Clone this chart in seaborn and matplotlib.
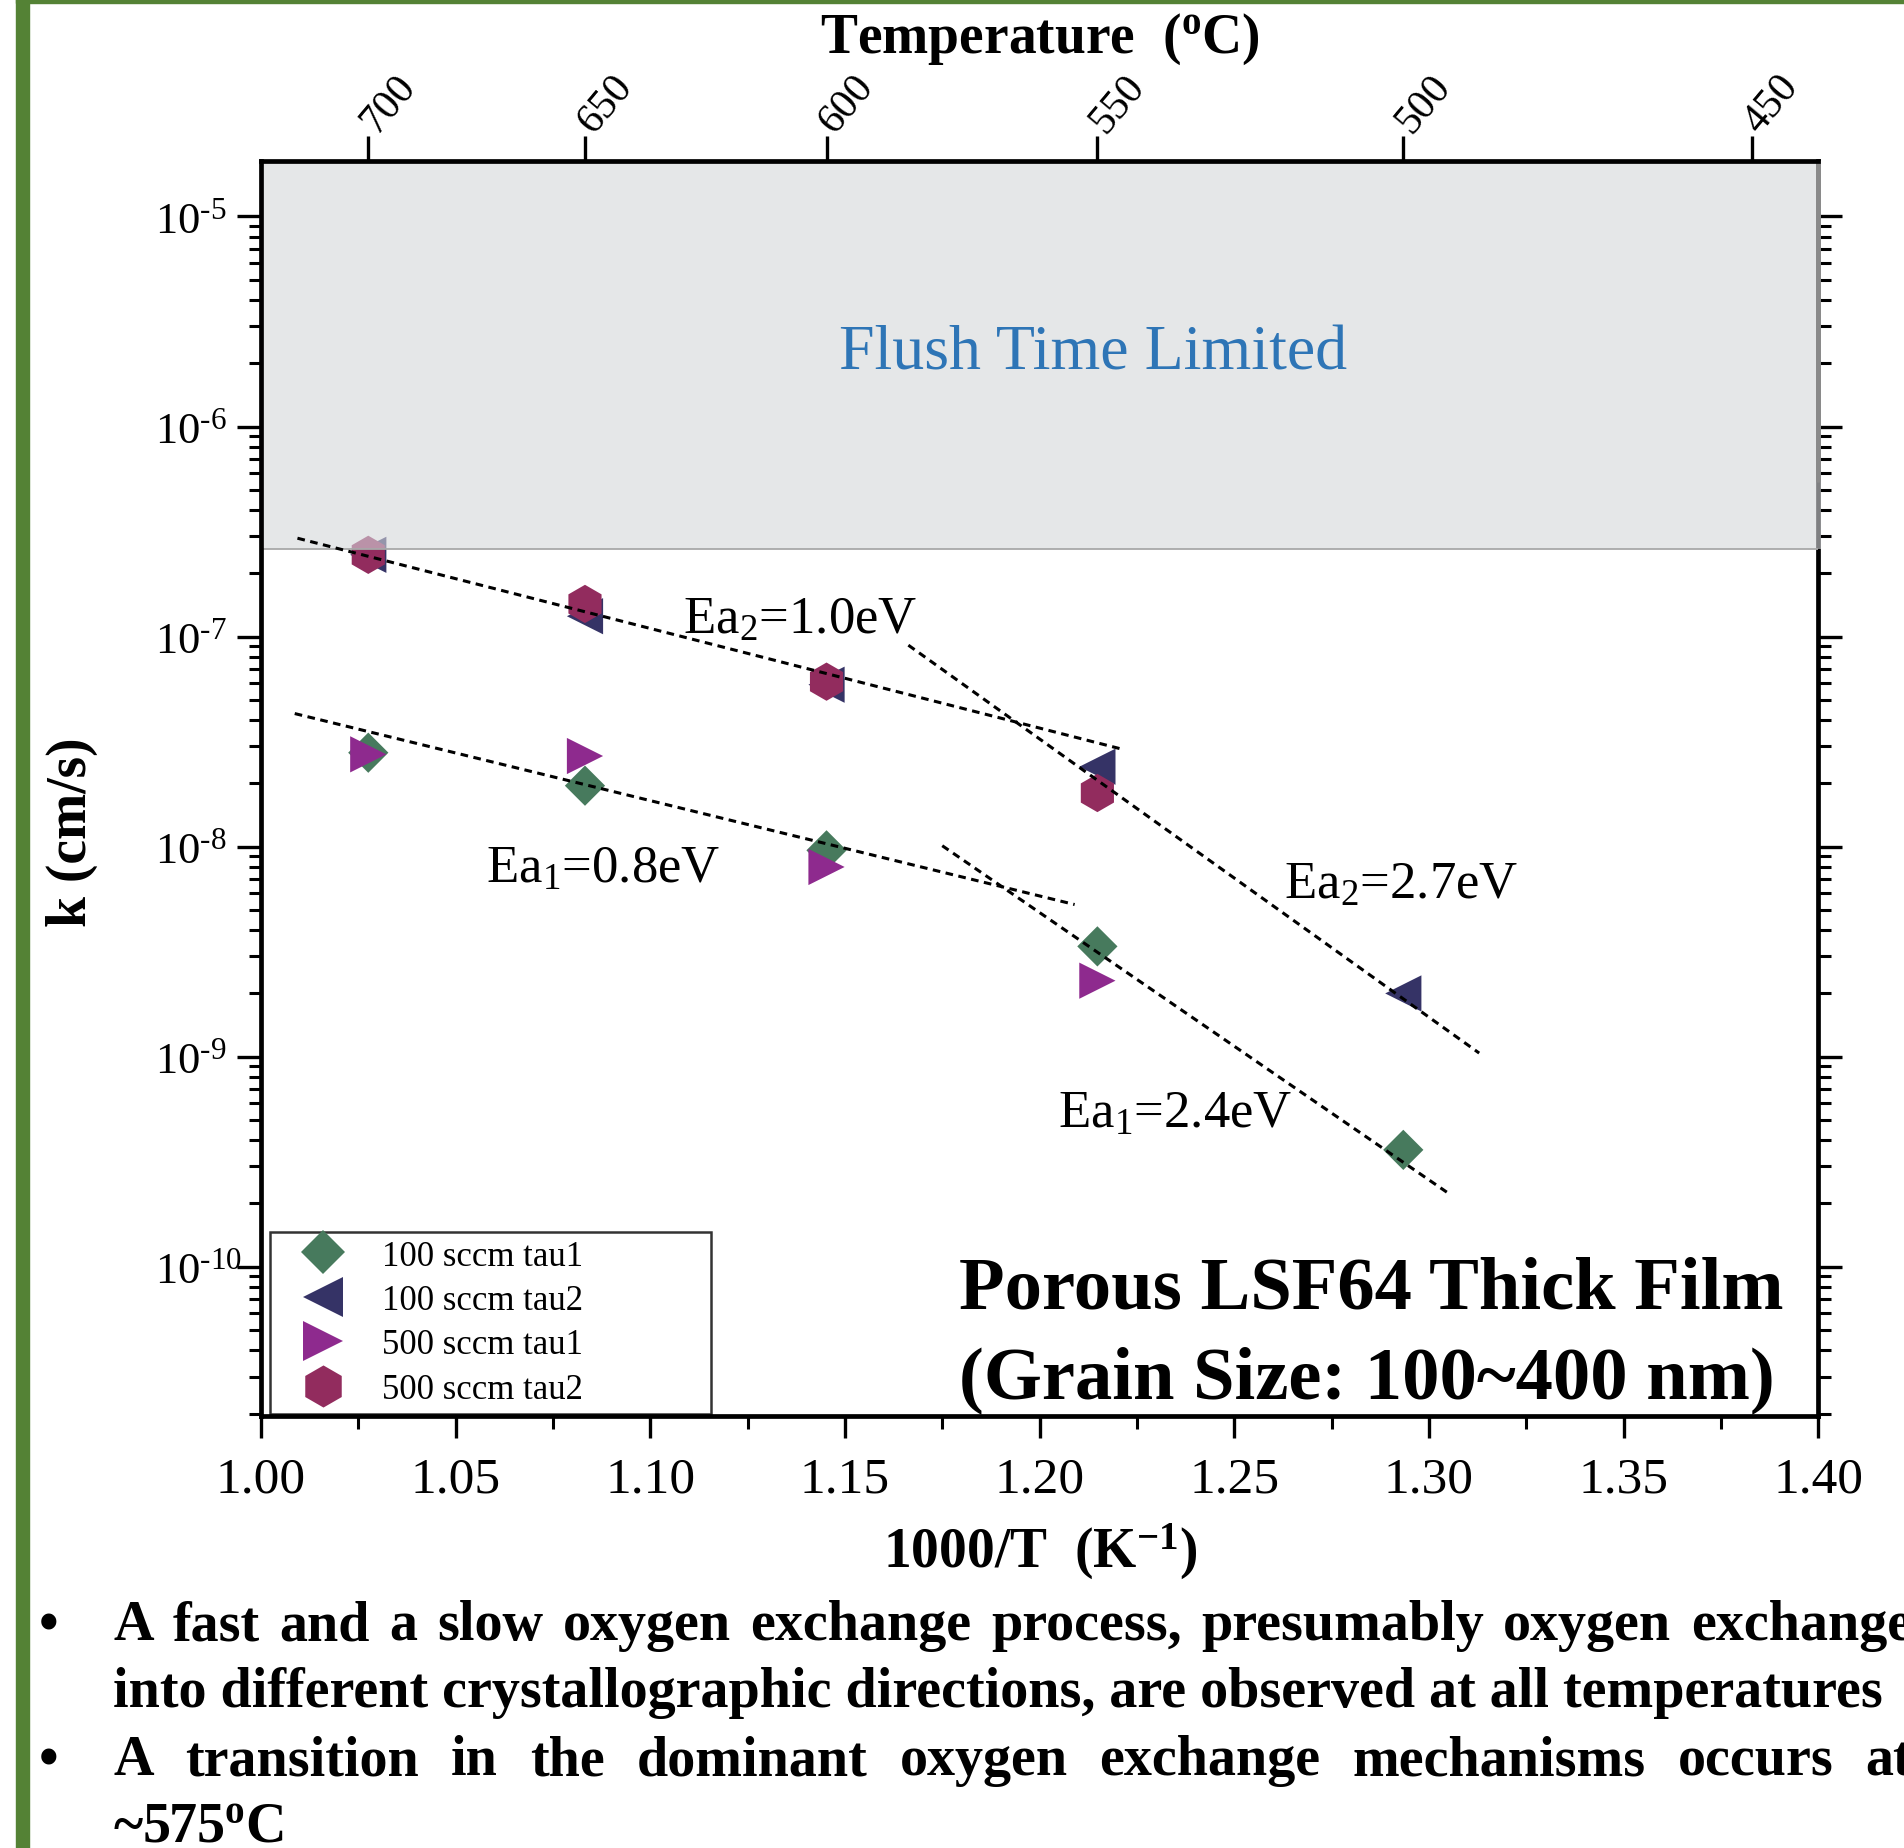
import math
import matplotlib
matplotlib.use("Agg")
import matplotlib.pyplot as plt
import matplotlib.ticker as mticker
from matplotlib.patches import Rectangle
import pandas as pd
import seaborn as sns

sns.set_style("ticks")
plt.rcParams['font.family'] = ['Liberation Serif', 'DejaVu Serif']
plt.rcParams['mathtext.fontset'] = 'custom'
plt.rcParams['mathtext.rm'] = 'Liberation Serif'
plt.rcParams['mathtext.it'] = 'Liberation Serif:italic'
plt.rcParams['mathtext.bf'] = 'Liberation Serif:bold'
for key in ['text.color', 'axes.labelcolor', 'xtick.color', 'ytick.color', 'axes.edgecolor']:
    plt.rcParams[key] = 'black'

# data
temps = [700, 650, 600, 550, 500]
k_100_tau1 = [2.8e-8, 1.95e-8, 9.6e-9, 3.35e-9, 3.6e-10]
k_100_tau2 = [2.45e-7, 1.25e-7, 5.9e-8, 2.4e-8, 2.0e-9]
temps_500 = [700, 650, 600, 550]
k_500_tau1 = [2.75e-8, 2.7e-8, 8.0e-9, 2.3e-9]
k_500_tau2 = [2.45e-7, 1.43e-7, 6.1e-8, 1.8e-8]

series_names = ["100 sccm tau1", "100 sccm tau2", "500 sccm tau1", "500 sccm tau2"]
series_colors = ["#477a5d", "#353366", "#8e2a8e", "#922c5e"]
series_markers = ["D", "<", ">", "h"]
series_sizes = [420, 680, 680, 760]

# dashed Arrhenius fits (end points)
fit_hi_x, fit_hi_k = [1.0094, 1.2215], [2.94e-7, 2.9e-8]
fit_hi2_x, fit_hi2_k = [1.1663, 1.3129], [9.1e-8, 1.04e-9]
fit_lo_x, fit_lo_k = [1.0087, 1.2090], [4.3e-8, 5.3e-9]
fit_lo2_x, fit_lo2_k = [1.1750, 1.3048], [1.01e-8, 2.25e-10]

flush_limit = 2.6e-7
top_temps = [700, 650, 600, 550, 500, 450]

rows = []
for name, tt, kk in zip(series_names, [temps, temps, temps_500, temps_500],
                        [k_100_tau1, k_100_tau2, k_500_tau1, k_500_tau2]):
    for t, k in zip(tt, kk):
        rows.append({"x": 1000 / (t + 273.15), "k": k, "series": name})
df = pd.DataFrame(rows)

fig = plt.figure(figsize=(19.04, 18.49), dpi=100)
ax = fig.add_axes([0.137, 0.2336, 0.818, 0.679])
ax.set_yscale("log")

sns.scatterplot(data=df, x="x", y="k", hue="series", style="series", size="series",
                palette=dict(zip(series_names, series_colors)),
                markers=dict(zip(series_names, series_markers)),
                sizes=dict(zip(series_names, series_sizes)),
                linewidth=0, ax=ax, zorder=2)

for xs, ks in [(fit_hi_x, fit_hi_k), (fit_hi2_x, fit_hi2_k), (fit_lo_x, fit_lo_k), (fit_lo2_x, fit_lo2_k)]:
    ax.plot(xs, ks, color="black", lw=2.2, linestyle=(0, (2.5, 1.8)), zorder=5)

ax.set_xlim(1.0, 1.4)
ax.set_ylim(1.945e-11, 1.845e-5)

# flush time limited region, drawn translucent over markers
ax.axhspan(flush_limit, 1.845e-5, xmin=0.002, xmax=1.002, facecolor="#d5d7da", alpha=0.6,
           lw=0, zorder=4, clip_on=False)
ax.axhline(flush_limit, color="#a8a8a8", lw=1.3, zorder=4)
ax.axvline(1.4, ymin=0.7455, ymax=0.999, color="#8a8a8a", lw=3.4, zorder=4.5, clip_on=False)
ax.text(1.2137, 2.22e-6, "Flush Time Limited", color="#2e75b6", fontsize=46,
        ha="center", va="center", zorder=5)

ax.text(1.1083, 1.04e-7, "Ea$_2$=1.0eV", fontsize=38, va="baseline")
ax.text(1.0577, 6.8e-9, "Ea$_1$=0.8eV", fontsize=38, va="baseline")
ax.text(1.2627, 5.7e-9, "Ea$_2$=2.7eV", fontsize=38, va="baseline")
ax.text(1.2047, 4.62e-10, "Ea$_1$=2.4eV", fontsize=38, va="baseline")
ax.text(1.1794, 6.36e-11, "Porous LSF64 Thick Film", fontsize=53.7, fontweight="bold", va="baseline")
ax.text(1.1794, 2.38e-11, "(Grain Size: 100~400 nm)", fontsize=53.7, fontweight="bold", va="baseline")

# axes styling
ax.xaxis.set_major_locator(mticker.MultipleLocator(0.05))
ax.xaxis.set_minor_locator(mticker.MultipleLocator(0.025))
ax.xaxis.set_major_formatter(mticker.FormatStrFormatter("%.2f"))
ax.yaxis.set_major_locator(mticker.LogLocator(base=10, numticks=20))
ax.yaxis.set_minor_locator(mticker.LogLocator(base=10, subs=range(2, 10), numticks=20))
ax.yaxis.set_major_formatter(mticker.FuncFormatter(
    lambda v, p: "10$^{\\text{%d}}$" % round(math.log10(v))))
ax.yaxis.set_minor_formatter(mticker.NullFormatter())
ax.tick_params(axis="x", which="major", direction="out", length=16, width=2.4, labelsize=37, pad=13)
ax.tick_params(axis="x", which="minor", direction="out", length=9, width=2.2)
ax.tick_params(axis="y", which="major", direction="out", length=17, width=2.4, labelsize=32,
               left=True, right=True, pad=59)
ax.tick_params(axis="y", which="minor", direction="out", length=9, width=2.2, left=True, right=True)
for lab in ax.get_yticklabels():
    lab.set_ha("left")
for side, sp in ax.spines.items():
    sp.set_linewidth(3.4)
    sp.set_visible(True)
    sp.set_zorder(6 if side != "right" else 2.5)

ax.set_xlabel("1000/T  (K$^{\\mathbf{-1}}$)", fontsize=40, fontweight="bold")
ax.xaxis.label.set_va("center")
ax.xaxis.set_label_coords(0.5, -0.1075)
ax.set_ylabel("k (cm/s)", fontsize=40, fontweight="bold")
ax.yaxis.label.set_va("center")
ax.yaxis.set_label_coords(-0.121, 0.466)

sns.move_legend(ax, "lower left", bbox_to_anchor=(0.006, 0.002, 0.283, 0.14), mode="expand",
                title=None, frameon=True, fancybox=False, fontsize=25, edgecolor="black",
                borderaxespad=0, borderpad=0.22, labelspacing=0.33, handlelength=2.6,
                handletextpad=0.4, markerscale=1.1)
ax.get_legend().get_frame().set_linewidth(1.8)

# top temperature axis
ax_top = ax.twiny()
ax_top.set_xlim(ax.get_xlim())
ax_top.set_xticks([1000 / (t + 273.15) for t in top_temps])
ax_top.set_xticklabels([str(t) for t in top_temps], rotation=50, ha="left", va="center",
                       rotation_mode="anchor", fontsize=30)
ax_top.tick_params(axis="x", direction="out", length=18, width=2.4, pad=6)
for sp in ax_top.spines.values():
    sp.set_visible(False)
ax_top.set_xlabel("Temperature  ($^{\\mathbf{o}}$C)", fontsize=40, fontweight="bold")
ax_top.xaxis.label.set_va("center")
ax_top.xaxis.set_label_coords(0.5, 1.0975)

# slide decoration
fig.patches.append(Rectangle((16 / 1904, 0), 13 / 1904, 1, transform=fig.transFigure,
                             color="#548235", zorder=0))
fig.patches.append(Rectangle((16 / 1904, 1 - 3.5 / 1849), 1, 3.5 / 1849, transform=fig.transFigure,
                             color="#548235", zorder=0))

bullet_kw = dict(fontsize=40.4, fontweight="bold", va="baseline")


def justified(words, y, x0, x1):
    r = fig.canvas.get_renderer()
    arts = [fig.text(0, y, w, **bullet_kw) for w in words]
    widths = [a.get_window_extent(r).width / fig.bbox.width for a in arts]
    gap = (x1 - x0 - sum(widths)) / (len(words) - 1)
    x = x0
    for a, w in zip(arts, widths):
        a.set_x(x)
        x += w + gap


text_x = 113 / 1904
right_x = 1912 / 1904
line1 = "A fast and a slow oxygen exchange process, presumably oxygen exchange"
line2 = "into different crystallographic directions, are observed at all temperatures"
line3 = "A transition in the dominant oxygen exchange mechanisms occurs at"
line4 = "~575$^{\\mathbf{o}}$C"
ys = [0.1130, 0.0768, 0.0400, 0.0038]
fig.text(49 / 1904, ys[0], "\u2022", ha="center", **bullet_kw)
fig.text(49 / 1904, ys[2], "\u2022", ha="center", **bullet_kw)
justified(line1.split(), ys[0], text_x, right_x)
fig.text(text_x, ys[1], line2, **bullet_kw)
justified(line3.split(), ys[2], text_x, right_x)
fig.text(text_x, ys[3], line4, **bullet_kw)

fig.savefig("out.png", dpi=100)
